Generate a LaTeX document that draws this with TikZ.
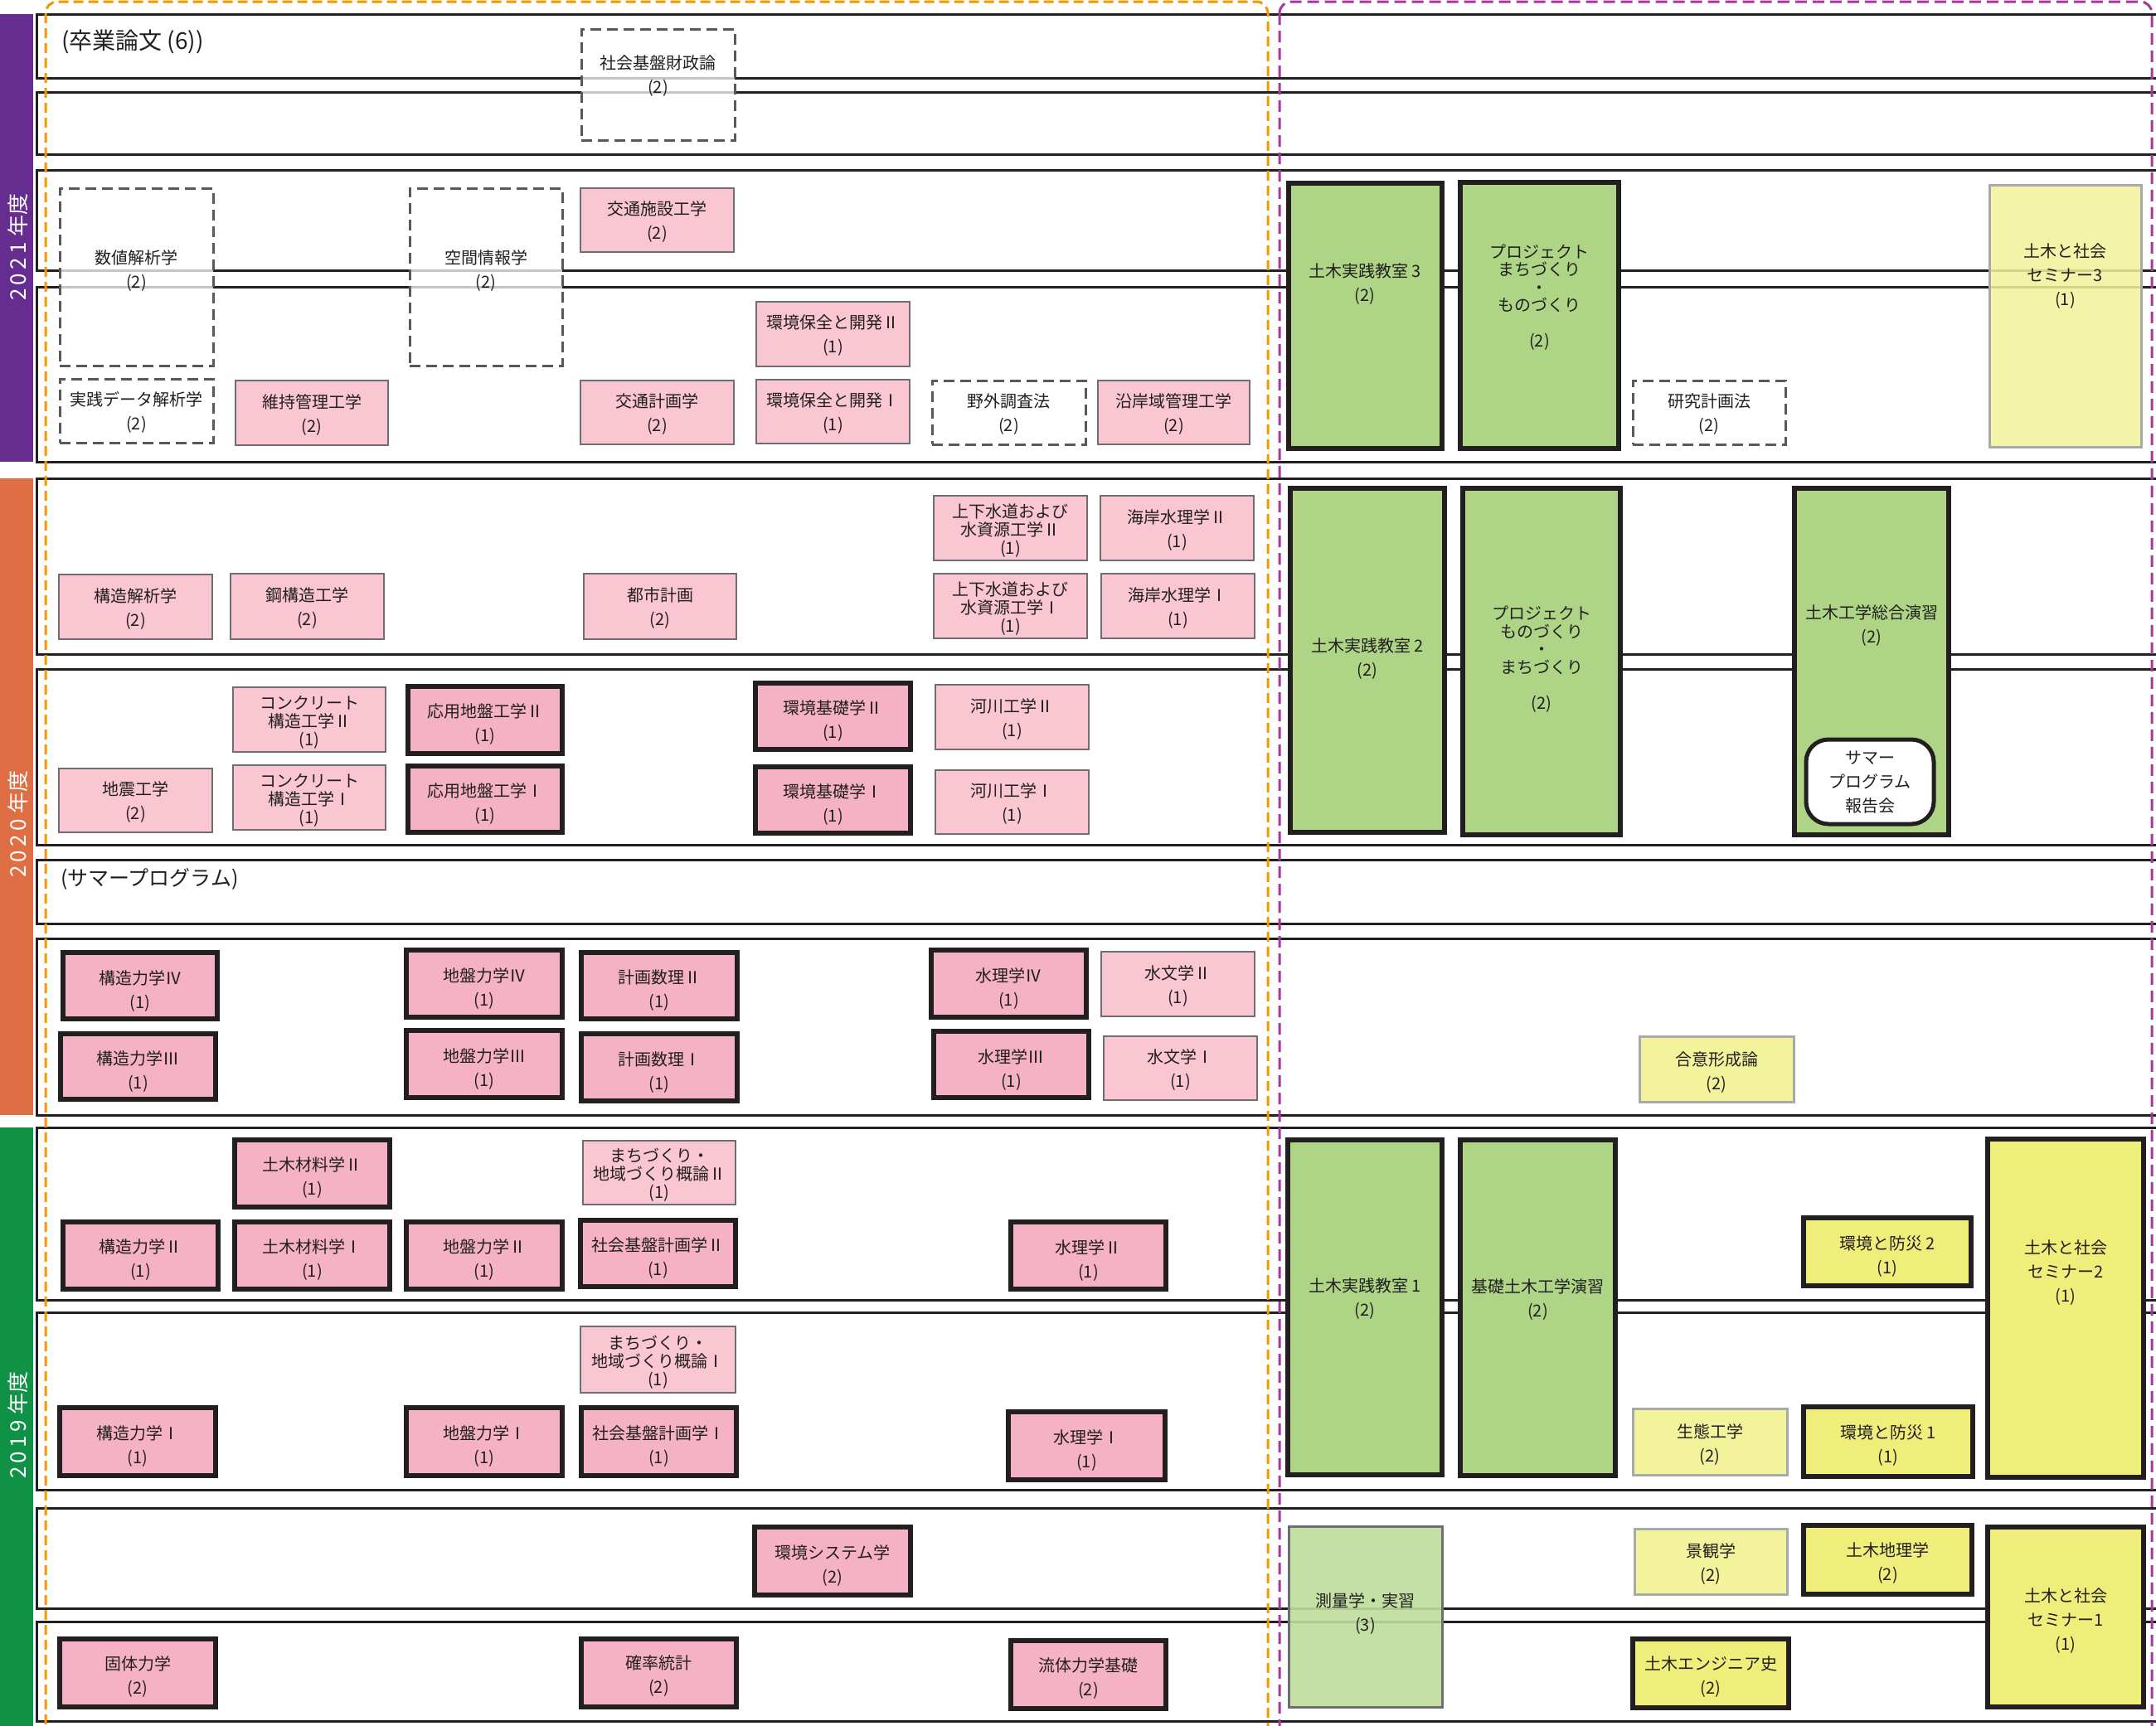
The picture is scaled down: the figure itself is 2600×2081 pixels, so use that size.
\documentclass[tikz,border=0pt]{standalone}
\usepackage{fontspec}
\setmainfont{Noto Sans CJK JP}
\definecolor{txt}{HTML}{231F20}
\definecolor{blk}{HTML}{231F20}
\definecolor{grayA}{HTML}{6D6E71}
\definecolor{grayB}{HTML}{A7A9AC}
\definecolor{pinkA}{HTML}{F9C6D2}
\definecolor{pinkB}{HTML}{F6B2C5}
\definecolor{greenA}{HTML}{AED586}
\definecolor{greenB}{HTML}{BEDD9C}
\definecolor{yelA}{HTML}{F3F39B}
\definecolor{yelB}{HTML}{F0EE7A}
\definecolor{purpbar}{HTML}{662D91}
\definecolor{orbar}{HTML}{E06E45}
\definecolor{grbar}{HTML}{0F9245}
\definecolor{ordash}{HTML}{F39800}
\definecolor{pudash}{HTML}{A2399B}
\definecolor{dashgray}{HTML}{58595B}
\newcommand\bx[6]{\node[#2, minimum width={#5-#3-4}, minimum height={#6-#4-4}] (#1) at ({(#3+#5)/2},{(#4+#6)/2}) {};}
\newcommand\kb[8]{\bx{#1}{#2}{#3}{#4}{#5}{#6}\node[#2, draw=none, fill=none, minimum width=0pt, minimum height=0pt] (#1t) at ({(#3+#5)/2},{(#4+#6)/2+#7}) {#8};}
\begin{document}
\begin{tikzpicture}[x=1pt,y=-1pt,
  every node/.style={font=\fontsize{20}{29}\selectfont, text=txt, inner sep=0pt, outer sep=0pt, align=center},
  lthree/.style={font=\fontsize{20}{22}\selectfont},
  lproj/.style={font=\fontsize{20}{21.5}\selectfont},
  rowline/.style={draw=blk, line width=3pt},
  pinkthin/.style={rectangle, fill=pinkA, draw=grayA, line width=2.5pt},
  pinkthick/.style={rectangle, fill=pinkB, draw=blk, line width=6pt},
  greenthick/.style={rectangle, fill=greenA, draw=blk, line width=6pt},
  greenlight/.style={rectangle, fill=greenB, fill opacity=0.9, text opacity=1, draw=grayA, line width=3pt},
  yelthin/.style={rectangle, fill=yelA, draw=grayB, line width=3pt},
  yelthintr/.style={rectangle, fill=yelA, fill opacity=0.85, text opacity=1, draw=grayB, line width=3pt},
  yelthick/.style={rectangle, fill=yelB, draw=blk, line width=6pt},
  dashbox/.style={rectangle, fill=white, fill opacity=0.75, text opacity=1, draw=dashgray, line width=3pt, dash pattern=on 13pt off 7pt},
  sumbox/.style={rectangle, fill=white, draw=blk, line width=5pt, rounded corners=27pt},
  yearlab/.style={rotate=90, text=white, font=\fontsize{26}{30}\selectfont},
  biglab/.style={anchor=west, font=\fontsize{28}{32}\selectfont}
]
\useasboundingbox (0,0) rectangle (2600,2081);
\clip (0,0) rectangle (2600,2081);
\fill[white] (0,0) rectangle (2600,2081);

% year bars
\fill[purpbar] (0,17) rectangle (40,557);
\fill[orbar] (0,577) rectangle (40,1345);
\fill[grbar] (0,1360) rectangle (40,2090);
\node[yearlab] (y2021) at (22,298) {2\,0\,2\,1\;年度};
\node[yearlab] (y2020) at (22,994) {2\,0\,2\,0\;年度};
\node[yearlab] (y2019) at (22,1719) {2\,0\,1\,9\;年度};

% row frames
\foreach \a/\b in {17/94,111/186,205/326,346/557,577/789,807/1019,1037/1114,1132/1345,1360/1568,1583/1797,1819/1940,1956/2076}
  \draw[rowline] (44,\a) rectangle (2660,\b);

\node[biglab] (sotsu) at (74,50) {(卒業論文 (6))};
\node[biglab, font=\fontsize{25}{30}\selectfont] (summer) at (73,1060) {(サマープログラム)};

% ---------- 2021 ----------
\bx{a1}{dashbox}{699}{33}{888}{171}
\node (a1t) at (793.5,91.5) {社会基盤財政論\\(2)};
\bx{a2}{dashbox}{70}{225}{259}{443}
\node (a2t) at (164.5,326.5) {数値解析学\\(2)};
\bx{a3}{dashbox}{492}{225}{680}{443}
\node (a3t) at (586,326.5) {空間情報学\\(2)};
\kb{a4}{pinkthin}{698}{225}{887}{306}{2}{交通施設工学\\(2)}
\kb{a5}{pinkthin}{910}{362}{1099}{444}{2}{環境保全と開発Ⅱ\\(1)}
\kb{a6}{dashbox}{70}{455}{259}{536}{2}{実践データ解析学\\(2)}
\kb{a7}{pinkthin}{282}{457}{470}{539}{2}{維持管理工学\\(2)}
\kb{a8}{pinkthin}{698}{457}{887}{538}{2}{交通計画学\\(2)}
\kb{a9}{pinkthin}{910}{456}{1099}{537}{2}{環境保全と開発Ⅰ\\(1)}
\kb{a10}{dashbox}{1122}{457}{1311}{538}{2}{野外調査法\\(2)}
\kb{a11}{pinkthin}{1322}{457}{1509}{538}{2}{沿岸域管理工学\\(2)}
\bx{a12}{greenthick}{1552}{219}{1741}{543}
\node (a12t) at (1646,343) {土木実践教室 3\\(2)};
\bx{a13}{greenthick}{1759}{218}{1954}{543}
\node[lproj] (a13t) at (1856.5,358.5) {プロジェクト\\まちづくり\\・\\ものづくり\\[21.5pt](2)};
\kb{a14}{dashbox}{1967}{457}{2155}{538}{2}{研究計画法\\(2)}
\bx{a15}{yelthintr}{2397}{221}{2584}{541}
\node (a15t) at (2490.5,333) {土木と社会\\セミナー3\\(1)};

% ---------- 2020 ----------
\kb{b1}{pinkthin}{69}{691}{258}{773}{2}{構造解析学\\(2)}
\kb{b2}{pinkthin}{276}{690}{465}{773}{2}{鋼構造工学\\(2)}
\kb{b3}{pinkthin}{702}{690}{890}{773}{2}{都市計画\\(2)}
\kb{b4}{pinkthin,lthree}{1124}{596}{1313}{678}{3}{上下水道および\\水資源工学Ⅱ\\(1)}
\kb{b5}{pinkthin}{1325}{596}{1514}{678}{2}{海岸水理学Ⅱ\\(1)}
\kb{b6}{pinkthin,lthree}{1124}{690}{1313}{772}{3}{上下水道および\\水資源工学Ⅰ\\(1)}
\kb{b7}{pinkthin}{1326}{690}{1515}{772}{2}{海岸水理学Ⅰ\\(1)}
\kb{b8}{pinkthin,lthree}{279}{827}{467}{909}{3}{コンクリート\\構造工学Ⅱ\\(1)}
\kb{b9}{pinkthick}{490}{826}{680}{911}{5}{応用地盤工学Ⅱ\\(1)}
\kb{b10}{pinkthick}{909}{822}{1100}{906}{5}{環境基礎学Ⅱ\\(1)}
\kb{b11}{pinkthin}{1126}{824}{1315}{906}{2}{河川工学Ⅱ\\(1)}
\kb{b12}{pinkthin}{69}{925}{258}{1006}{2}{地震工学\\(2)}
\kb{b13}{pinkthin,lthree}{279}{921}{467}{1003}{3}{コンクリート\\構造工学Ⅰ\\(1)}
\kb{b14}{pinkthick}{490}{922}{680}{1006}{5}{応用地盤工学Ⅰ\\(1)}
\kb{b15}{pinkthick}{909}{923}{1100}{1007}{5}{環境基礎学Ⅰ\\(1)}
\kb{b16}{pinkthin}{1126}{927}{1315}{1008}{2}{河川工学Ⅰ\\(1)}
\bx{b17}{greenthick}{1554}{587}{1744}{1006}
\node (b17t) at (1649,795) {土木実践教室 2\\(2)};
\bx{b18}{greenthick}{1762}{587}{1956}{1009}
\node[lproj] (b18t) at (1859,795) {プロジェクト\\ものづくり\\・\\まちづくり\\[21.5pt](2)};
\bx{b19}{greenthick}{2162}{587}{2352}{1009}
\node (b19t) at (2257,754.5) {土木工学総合演習\\(2)};
\kb{b20}{sumbox}{2176}{890}{2334}{996}{1}{サマー\\プログラム\\報告会}
\kb{b21}{pinkthick}{74}{1147}{264}{1231}{6}{構造力学Ⅳ\\(1)}
\kb{b22}{pinkthick}{71}{1245}{262}{1328}{6}{構造力学Ⅲ\\(1)}
\kb{b23}{pinkthick}{488}{1144}{680}{1229}{6}{地盤力学Ⅳ\\(1)}
\kb{b24}{pinkthick}{488}{1241}{680}{1326}{6}{地盤力学Ⅲ\\(1)}
\kb{b25}{pinkthick}{699}{1147}{891}{1231}{6}{計画数理Ⅱ\\(1)}
\kb{b26}{pinkthick}{699}{1245}{891}{1330}{6}{計画数理Ⅰ\\(1)}
\kb{b27}{pinkthick}{1121}{1144}{1312}{1229}{6}{水理学Ⅳ\\(1)}
\kb{b28}{pinkthin}{1326}{1146}{1515}{1228}{2}{水文学Ⅱ\\(1)}
\kb{b29}{pinkthick}{1124}{1242}{1315}{1326}{6}{水理学Ⅲ\\(1)}
\kb{b30}{pinkthin}{1329}{1248}{1518}{1329}{2}{水文学Ⅰ\\(1)}
\kb{b31}{yelthin}{1975}{1248}{2165}{1331}{4}{合意形成論\\(2)}

% ---------- 2019 ----------
\kb{c1}{pinkthick}{281}{1373}{472}{1458}{5}{土木材料学Ⅱ\\(1)}
\kb{c2}{pinkthin,lthree}{701}{1374}{889}{1455}{3}{まちづくり・\\地域づくり概論Ⅱ\\(1)}
\kb{c3}{pinkthick}{74}{1472}{265}{1557}{5}{構造力学Ⅱ\\(1)}
\kb{c4}{pinkthick}{281}{1472}{472}{1557}{5}{土木材料学Ⅰ\\(1)}
\kb{c5}{pinkthick}{488}{1472}{680}{1557}{5}{地盤力学Ⅱ\\(1)}
\kb{c6}{pinkthick}{698}{1470}{889}{1554}{5}{社会基盤計画学Ⅱ\\(1)}
\kb{c7}{pinkthick}{1217}{1472}{1408}{1557}{6}{水理学Ⅱ\\(1)}
\bx{c8}{greenthick}{1551}{1373}{1741}{1781}
\node (c8t) at (1646,1567) {土木実践教室 1\\(2)};
\bx{c9}{greenthick}{1759}{1373}{1950}{1782}
\node (c9t) at (1854.5,1567.5) {基礎土木工学演習\\(2)};
\kb{c10}{yelthick}{2173}{1467}{2379}{1553}{6}{環境と防災 2\\(1)}
\bx{c11}{yelthick}{2395}{1372}{2587}{1784}
\node (c11t) at (2491,1535) {土木と社会\\セミナー2\\(1)};
\kb{c12}{pinkthin,lthree}{698}{1598}{889}{1682}{3}{まちづくり・\\地域づくり概論Ⅰ\\(1)}
\kb{c13}{pinkthick}{70}{1696}{262}{1782}{5}{構造力学Ⅰ\\(1)}
\kb{c14}{pinkthick}{488}{1696}{680}{1782}{5}{地盤力学Ⅰ\\(1)}
\kb{c15}{pinkthick}{699}{1696}{890}{1782}{5}{社会基盤計画学Ⅰ\\(1)}
\kb{c16}{pinkthick}{1214}{1701}{1407}{1787}{5}{水理学Ⅰ\\(1)}
\kb{c17}{yelthin}{1967}{1697}{2157}{1781}{3}{生態工学\\(2)}
\kb{c18}{yelthick}{2173}{1695}{2381}{1783}{5}{環境と防災 1\\(1)}
\kb{c19}{pinkthick}{908}{1840}{1100}{1926}{5}{環境システム学\\(2)}
\kb{c20}{yelthin}{1969}{1842}{2157}{1925}{3}{景観学\\(2)}
\kb{c21}{yelthick}{2173}{1838}{2380}{1925}{4}{土木地理学\\(2)}
\bx{c22}{greenlight}{1552}{1839}{1741}{2061}
\node (c22t) at (1646.5,1946.5) {測量学・実習\\(3)};
\bx{c23}{yelthick}{2395}{1840}{2587}{2061}
\node (c23t) at (2491,1955) {土木と社会\\セミナー1\\(1)};
\kb{c24}{pinkthick}{70}{1975}{262}{2061}{4}{固体力学\\(2)}
\kb{c25}{pinkthick}{699}{1975}{890}{2061}{4}{確率統計\\(2)}
\kb{c26}{pinkthick}{1217}{1977}{1408}{2063}{4}{流体力学基礎\\(2)}
\kb{c27}{yelthick}{1967}{1975}{2159}{2062}{4}{土木エンジニア史\\(2)}

% dashed group outlines
\draw[ordash, line width=3pt, dash pattern=on 12pt off 6pt, rounded corners=14pt] (55,2) rectangle (1529,2140);
\draw[pudash, line width=3pt, dash pattern=on 14pt off 7pt, rounded corners=14pt] (1543,2) rectangle (2595,2140);
\end{tikzpicture}
\end{document}
